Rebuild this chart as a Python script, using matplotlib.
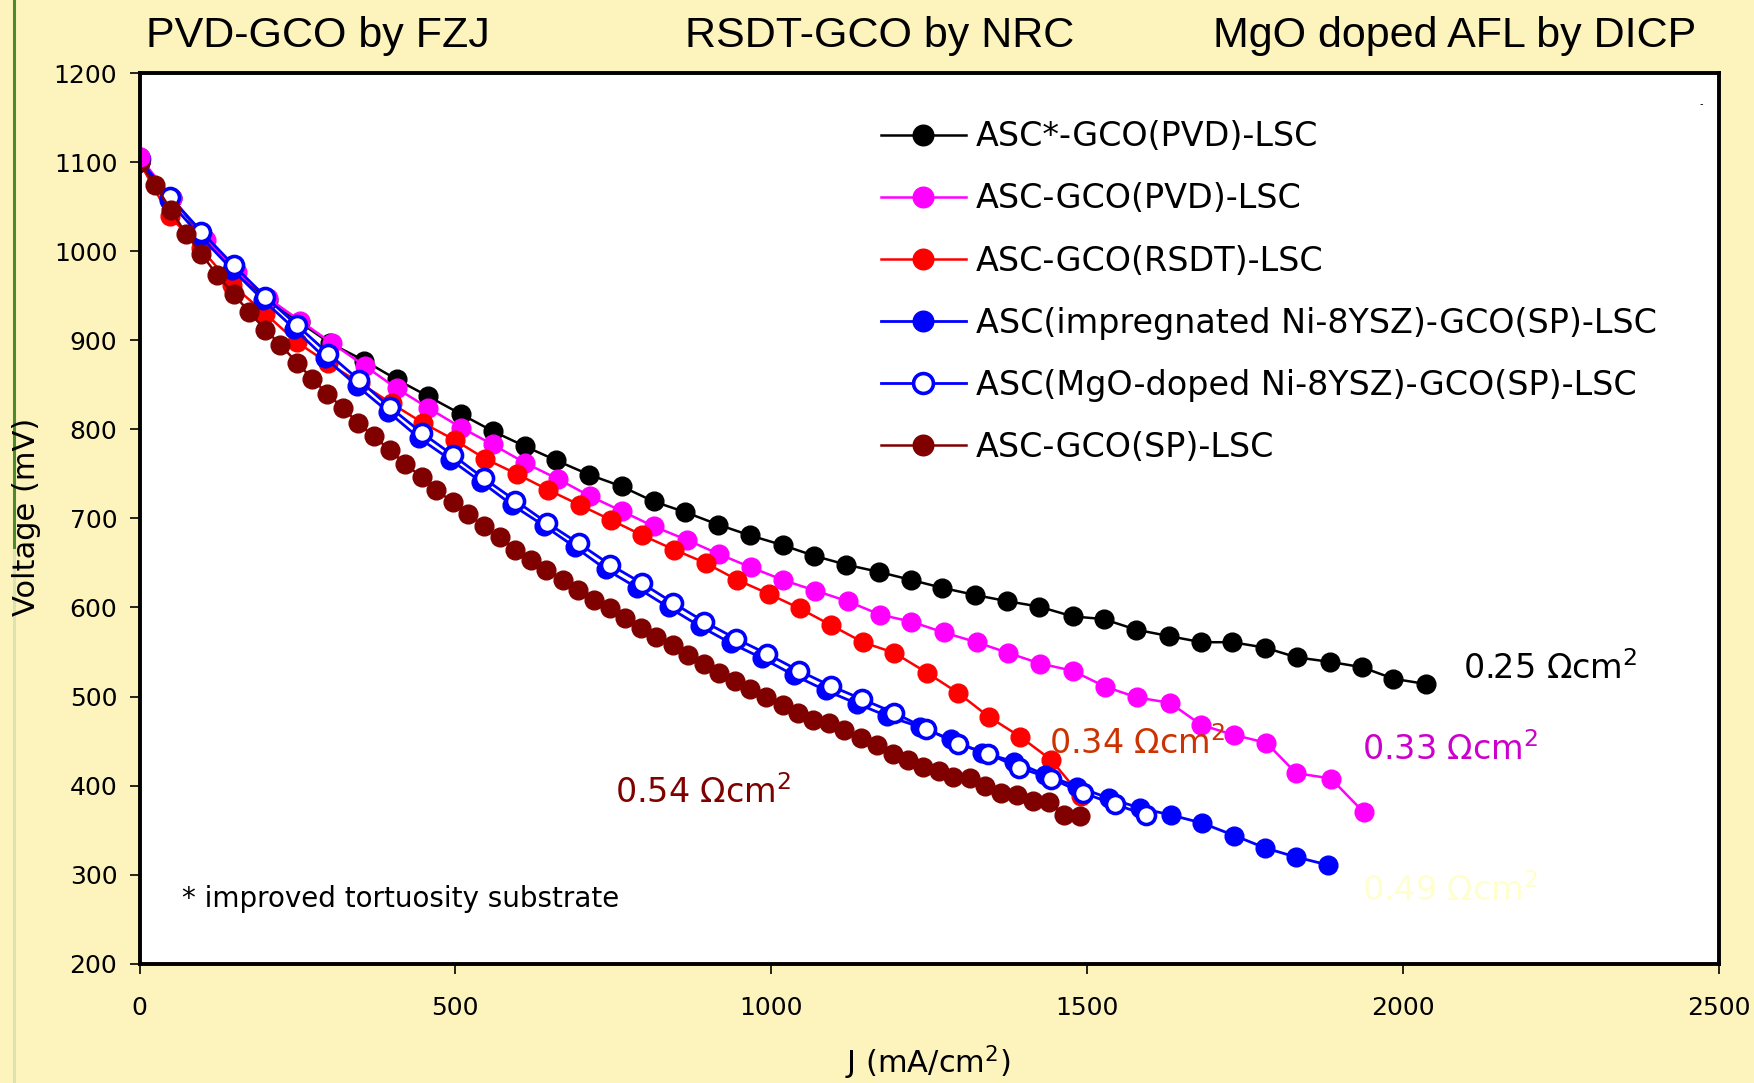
import matplotlib.pyplot as plt
from matplotlib.lines import Line2D

# J (mA/cm2) and voltage (mV)
j_pvd_star = [0, 51, 102, 152, 203, 254, 301, 356, 407, 457, 509, 559, 610, 660, 712, 763, 814, 864,
              916, 966, 1018, 1068, 1119, 1170, 1221, 1271, 1323, 1374, 1424, 1477, 1526, 1578, 1629,
              1681, 1730, 1781, 1832, 1884, 1935, 1985, 2037]
v_pvd_star = [1100, 1060, 1015, 978, 945, 920, 897, 877, 856, 837, 817, 798, 781, 765, 749, 736, 719, 707,
              693, 681, 670, 658, 648, 640, 631, 622, 614, 607, 601, 590, 587, 575, 568,
              561, 561, 555, 544, 539, 533, 520, 514]

j_pvd = [0, 51, 106, 154, 204, 254, 304, 357, 407, 457, 509, 559, 611, 663, 713, 764, 814, 866, 917,
         968, 1018, 1069, 1121, 1172, 1222, 1273, 1325, 1375, 1426, 1477, 1529, 1579, 1631, 1681,
         1732, 1784, 1831, 1886, 1938]
v_pvd = [1106, 1060, 1013, 977, 947, 922, 897, 871, 846, 824, 802, 783, 762, 744, 725, 708, 691, 676, 660,
         645, 631, 619, 607, 592, 584, 572, 561, 549, 537, 529, 511, 499, 493, 468,
         457, 448, 414, 408, 370]

j_rsdt = [0, 48, 97, 147, 199, 249, 299, 349, 399, 449, 499, 547, 597, 647, 697, 747, 796, 846, 896,
          946, 997, 1045, 1095, 1145, 1195, 1246, 1296, 1345, 1394, 1443, 1491]
v_rsdt = [1100, 1039, 1003, 962, 930, 898, 874, 852, 829, 807, 788, 767, 750, 732, 715, 698, 681, 665, 650,
          631, 615, 599, 580, 561, 549, 527, 504, 477, 455, 429, 388]

j_impreg = [0, 46, 96, 147, 196, 245, 294, 344, 393, 443, 492, 541, 590, 640, 689, 738, 788, 838, 887,
            936, 986, 1036, 1086, 1136, 1184, 1235, 1284, 1334, 1385, 1434, 1484, 1534, 1583, 1633,
            1682, 1733, 1782, 1830, 1881]
v_impreg = [1100, 1057, 1017, 979, 945, 913, 880, 849, 820, 790, 766, 741, 715, 692, 668, 643, 622, 600, 579,
            560, 543, 524, 507, 492, 478, 466, 452, 437, 427, 412, 399, 386, 375, 367,
            358, 344, 330, 320, 311]

j_mgo = [0, 48, 98, 149, 199, 249, 299, 348, 396, 447, 496, 545, 595, 645, 695, 745, 796, 845, 894,
         944, 993, 1044, 1094, 1144, 1194, 1245, 1295, 1343, 1393, 1443, 1493, 1544, 1594]
v_mgo = [1103, 1061, 1022, 984, 949, 917, 885, 855, 825, 796, 771, 745, 720, 695, 672, 648, 627, 605, 584,
         565, 548, 529, 512, 497, 482, 464, 447, 436, 420, 408, 392, 379, 367]

j_sp = [0, 25, 50, 74, 98, 123, 149, 173, 199, 223, 249, 273, 297, 322, 346, 371, 396, 421, 447, 470,
        496, 520, 545, 570, 594, 620, 644, 670, 694, 720, 745, 768, 794, 818, 844, 868, 893, 917, 942,
        967, 992, 1018, 1042, 1066, 1092, 1116, 1142, 1167, 1192, 1217, 1241, 1266, 1288, 1314, 1339,
        1364, 1389, 1414, 1439, 1464, 1489]
v_sp = [1100, 1074, 1046, 1019, 997, 973, 952, 932, 912, 895, 875, 857, 840, 824, 807, 792, 777, 761, 746, 732,
        718, 705, 691, 679, 665, 653, 642, 631, 620, 608, 599, 588, 577, 567, 558, 547, 536, 526, 517,
        508, 500, 491, 482, 474, 470, 462, 453, 446, 436, 429, 421, 416, 410, 409, 400,
        392, 389, 383, 382, 367, 366]

labels = ['ASC*-GCO(PVD)-LSC', 'ASC-GCO(PVD)-LSC', 'ASC-GCO(RSDT)-LSC',
          'ASC(impregnated Ni-8YSZ)-GCO(SP)-LSC', 'ASC(MgO-doped Ni-8YSZ)-GCO(SP)-LSC', 'ASC-GCO(SP)-LSC']
titles = ['PVD-GCO by FZJ', 'RSDT-GCO by NRC', 'MgO doped AFL by DICP']
asr_labels = ['0.25', '0.33', '0.34', '0.54', '0.49']
asr_x = [2095, 1935, 1440, 753, 1935]
asr_y = [520, 429, 436, 381, 271]
asr_colors = ['black', '#CC00CC', '#CC3300', '#800000', '#FFFFCC']

BG = '#FCF3BD'

fig = plt.figure(figsize=(17.54, 10.83), dpi=100, facecolor=BG)
ax = fig.add_axes([139.5 / 1754, 1 - 963.8 / 1083, 1579.3 / 1754, 890.8 / 1083])
ax.set_facecolor('white')

ms = 13.5
ax.plot(j_pvd_star, v_pvd_star, '-o', color='black', lw=1.8, ms=ms, mew=1, label=labels[0])
ax.plot(j_pvd, v_pvd, '-o', color='#FF00FF', lw=1.8, ms=ms, mew=1, label=labels[1])
ax.plot(j_rsdt, v_rsdt, '-o', color='#FF0000', lw=1.8, ms=ms, mew=1, label=labels[2])
ax.plot(j_impreg, v_impreg, '-o', color='#0000FF', lw=2, ms=ms, mew=1, label=labels[3])
ax.plot(j_mgo, v_mgo, '-o', color='#0000FF', mfc='white', mec='#0000FF', lw=2, ms=ms - 0.5, mew=2.6,
        label=labels[4])
ax.plot(j_sp, v_sp, '-o', color='#800000', lw=1.8, ms=ms, mew=1, label=labels[5])
# first magenta point sits on top of the others at J = 0
ax.plot(j_pvd[:1], v_pvd[:1], 'o', color='#FF00FF', ms=ms, mew=1)

ax.set_xlim(0, 2500)
ax.set_ylim(200, 1200)
ax.set_xticks(range(0, 2501, 500))
ax.set_yticks(range(200, 1201, 100))
ax.tick_params(axis='x', direction='out', length=7, width=1.2, labelsize=18, pad=16)
ax.tick_params(axis='y', direction='out', length=7, width=1.2, labelsize=18, pad=9)
for s in ax.spines.values():
    s.set_linewidth(2.8)

leg = ax.legend(loc='upper left', bbox_to_anchor=(0.4695, 0.947), frameon=False, fontsize=24,
                handlelength=2.54, handletextpad=0.3, labelspacing=0.875, borderpad=0, borderaxespad=0,
                markerscale=1.1)

for t, x, y, c in zip(asr_labels, asr_x, asr_y, asr_colors):
    ax.text(x, y, t + r' $\Omega$cm$^2$', color=c, fontsize=24, ha='left', va='baseline')
ax.text(68, 264, '* improved tortuosity substrate', fontsize=20, ha='left', va='baseline')
ax.text(0.9887, 0.965, '-', fontsize=7, transform=ax.transAxes, ha='center', va='center')

for t, xc in zip(titles, [318, 880, 1455]):
    fig.text(xc / 1754, 1 - 46.5 / 1083, t, fontsize=31, family='Liberation Sans', ha='center',
             va='baseline')

fig.text(928 / 1754, 1 - 1073 / 1083, 'J (mA/cm$^2$)', fontsize=22, ha='center', va='baseline')
fig.text(27 / 1754, 1 - 517 / 1083, 'Voltage (mV)', fontsize=22, rotation=90, ha='center', va='center')

# green edge line on the left of the slide
fig.add_artist(Line2D([14 / 1754, 14 / 1754], [1, 1 - 550 / 1083], color='#4B8B2B', lw=2.2))
fig.add_artist(Line2D([14 / 1754, 14 / 1754], [1 - 550 / 1083, 0], color='#DDE3AE', lw=2.2))

fig.savefig('out.png', dpi=100, facecolor=BG)
